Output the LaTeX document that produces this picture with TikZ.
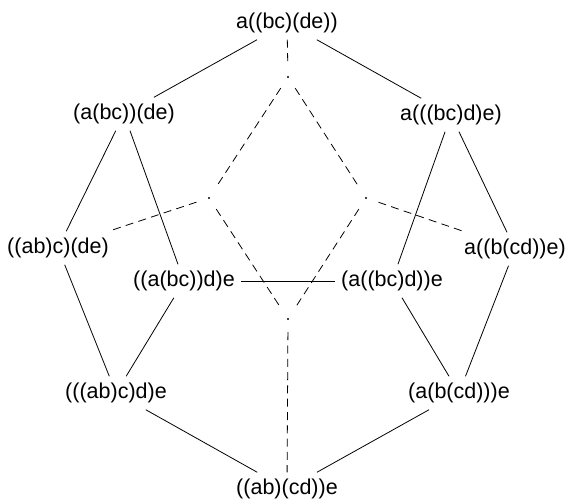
\documentclass[tikz,border=0pt]{standalone}
\usepackage{fontspec}
\setmainfont{Liberation Sans}
\begin{document}
\begin{tikzpicture}[x=1pt,y=-1pt,
  term/.style={inner sep=6.5pt, font=\fontsize{21.5}{26}\selectfont},
  hub/.style={circle, inner sep=0pt, minimum size=26pt,
    path picture={\fill (path picture bounding box.center) circle (1.1pt);}},
  edge/.style={line width=0.8pt},
  hidden/.style={line width=0.8pt, dash pattern=on 8pt off 5.3pt}]
\useasboundingbox (0,0) rectangle (570,500);

% vertices of the pentagonal faces
\node[term] (top) at (287,23)  {a((bc)(de))};
\node[term] (A)   at (124,114) {(a(bc))(de)};
\node[term] (B)   at (451,115) {a(((bc)d)e)};
\node[term] (C)   at (58,248)  {((ab)c)(de)};
\node[term] (D)   at (184,281) {((a(bc))d)e};
\node[term] (E)   at (392,281) {(a((bc)d))e};
\node[term] (F)   at (515,249) {a((b(cd))e)};
\node[term] (G)   at (116,393) {(((ab)c)d)e};
\node[term] (H)   at (459,393) {(a(b(cd)))e};
\node[term] (bot) at (287,489) {((ab)(cd))e};

% hidden vertices at the back
\node[hub] (h1) at (288,77)  {};
\node[hub] (h2) at (209,198) {};
\node[hub] (h3) at (366,198) {};
\node[hub] (h4) at (288,319) {};

% visible edges
\draw[edge] (top) -- (A);
\draw[edge] (top) -- (B);
\draw[edge] (A) -- (C);
\draw[edge] (A) -- (D);
\draw[edge] (B) -- (E);
\draw[edge] (B) -- (F);
\draw[edge] (C) -- (G);
\draw[edge] (D) -- (G);
\draw[edge] (D) -- (E);
\draw[edge] (E) -- (H);
\draw[edge] (F) -- (H);
\draw[edge] (G) -- (bot);
\draw[edge] (H) -- (bot);

% hidden edges
\draw[hidden] (top) -- (h1);
\draw[hidden] (h1) -- (h2);
\draw[hidden] (h1) -- (h3);
\draw[hidden] (h2) -- (C);
\draw[hidden] (h3) -- (F);
\draw[hidden] (h2) -- (h4);
\draw[hidden] (h3) -- (h4);
\draw[hidden] (h4) -- (bot);
\end{tikzpicture}
\end{document}
